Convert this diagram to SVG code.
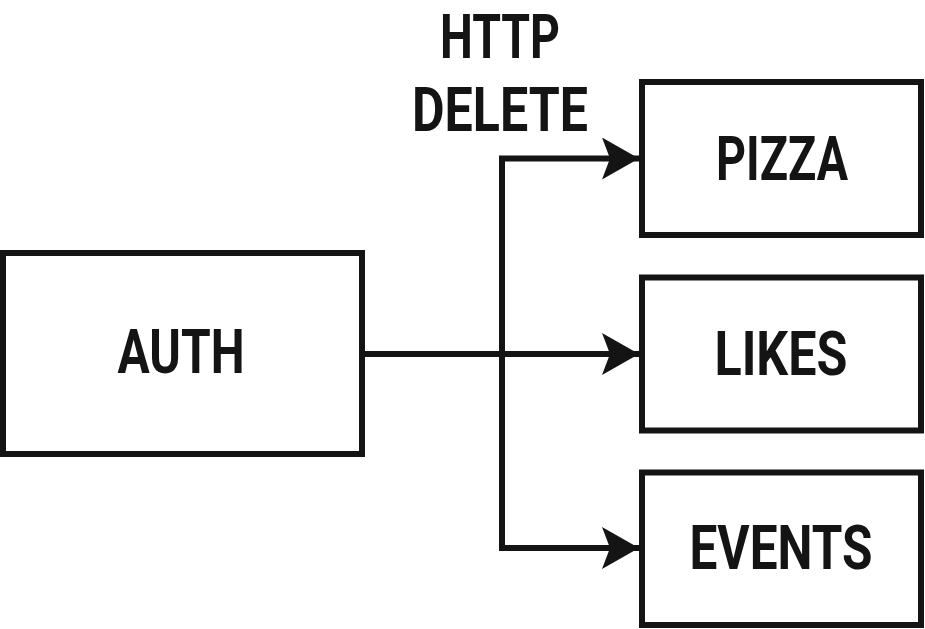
<svg xmlns="http://www.w3.org/2000/svg" width="925" height="629" viewBox="0 0 925 629">
<style>
.box{fill:#fff;stroke:#141414;stroke-width:6}
.lbl{font-family:Roboto,"Liberation Sans",sans-serif;font-weight:bold;font-size:61px;fill:#141414;text-anchor:middle}
.con{fill:none;stroke:#141414;stroke-width:6;stroke-linejoin:miter}
</style>
<defs>
<marker id="ah" markerUnits="userSpaceOnUse" markerWidth="40" markerHeight="44" refX="37" refY="21" orient="auto-start-reverse" viewBox="0 0 40 44">
<path d="M0,0 L37,21 L0,42 L8,21 Z" fill="#141414"/>
</marker>
</defs>
<rect width="925" height="629" fill="#fff"/>
<g id="connectors">
<path class="con" d="M639,158.5 H502 V548 H639" marker-start="url(#ah)" marker-end="url(#ah)"/>
<path class="con" d="M362,354 H639" marker-end="url(#ah)"/>
</g>
<g id="label-http">
<text class="lbl" x="500" y="58" textLength="120" lengthAdjust="spacingAndGlyphs">HTTP</text>
<text class="lbl" x="500" y="131" textLength="176" lengthAdjust="spacingAndGlyphs">DELETE</text>
</g>
<g id="auth">
<rect class="box" x="3" y="253" width="359" height="201"/>
<text class="lbl" x="181" y="373" textLength="127" lengthAdjust="spacingAndGlyphs">AUTH</text>
</g>
<g id="pizza">
<rect class="box" x="642" y="82" width="279" height="153"/>
<text class="lbl" x="782" y="180" textLength="132" lengthAdjust="spacingAndGlyphs">PIZZA</text>
</g>
<g id="likes">
<rect class="box" x="642" y="277.5" width="279" height="153"/>
<text class="lbl" x="781" y="375" textLength="133" lengthAdjust="spacingAndGlyphs">LIKES</text>
</g>
<g id="events">
<rect class="box" x="642" y="472.5" width="279" height="152.5"/>
<text class="lbl" x="781" y="569" textLength="183" lengthAdjust="spacingAndGlyphs">EVENTS</text>
</g>
</svg>
